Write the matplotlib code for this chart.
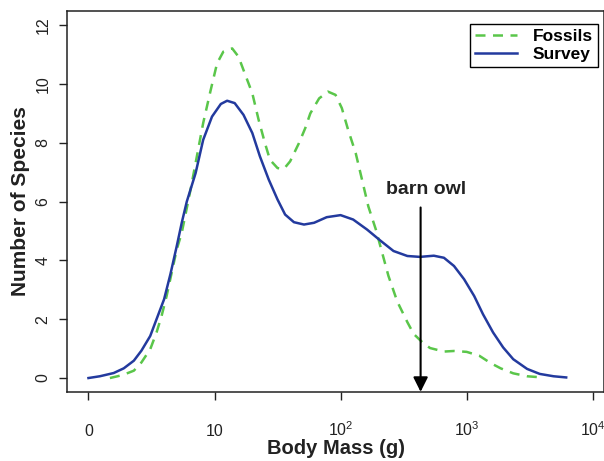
import numpy as np
import matplotlib
matplotlib.use('Agg')
import matplotlib.pyplot as plt

plt.rcParams['font.family'] = ['Liberation Sans', 'DejaVu Sans']
plt.rcParams['mathtext.default'] = 'regular'

# log10 body mass (g) vs number of species
survey_x = [0.0, 0.09, 0.20, 0.28, 0.36, 0.42, 0.49, 0.54, 0.60, 0.65, 0.70,
            0.74, 0.78, 0.85, 0.91, 0.98, 1.05, 1.10, 1.16, 1.23, 1.30, 1.36,
            1.43, 1.50, 1.56, 1.63, 1.71, 1.79, 1.89, 2.00, 2.10, 2.21, 2.32,
            2.42, 2.53, 2.63, 2.74, 2.82, 2.90, 2.98, 3.06, 3.13, 3.21, 3.29,
            3.37, 3.48, 3.58, 3.69, 3.79]
survey_y = [0.0, 0.06, 0.17, 0.33, 0.59, 0.93, 1.43, 2.0, 2.68, 3.53, 4.48,
            5.28, 6.0, 6.97, 8.10, 8.89, 9.32, 9.43, 9.35, 8.95, 8.33, 7.54,
            6.75, 6.07, 5.56, 5.30, 5.22, 5.28, 5.47, 5.54, 5.39, 5.05, 4.66,
            4.32, 4.15, 4.12, 4.16, 4.09, 3.81, 3.36, 2.79, 2.17, 1.55, 1.04,
            0.64, 0.31, 0.14, 0.06, 0.02]

fossil_x = [0.17, 0.27, 0.36, 0.42, 0.49, 0.54, 0.58, 0.62, 0.66, 0.70, 0.74,
            0.81, 0.86, 0.91, 0.97, 1.02, 1.07, 1.14, 1.19, 1.24, 1.30, 1.35,
            1.40, 1.44, 1.50, 1.55, 1.60, 1.67, 1.72, 1.76, 1.83, 1.90, 1.96,
            2.01, 2.06, 2.12, 2.17, 2.22, 2.28, 2.33, 2.38, 2.45, 2.53, 2.58,
            2.65, 2.71, 2.82, 2.90, 3.00, 3.10, 3.19, 3.27, 3.37, 3.48, 3.60]
fossil_y = [0.0, 0.10, 0.25, 0.53, 0.98, 1.55, 2.11, 2.79, 3.58, 4.37, 4.94,
            6.41, 7.54, 8.67, 9.80, 10.70, 11.10, 11.21, 10.93, 10.36, 9.68, 8.78,
            7.99, 7.42, 7.14, 7.11, 7.37, 7.99, 8.50, 9.0, 9.51, 9.74, 9.63,
            9.18, 8.44, 7.65, 6.75, 5.84, 5.05, 4.26, 3.47, 2.6, 1.9, 1.5,
            1.21, 1.02, 0.90, 0.92, 0.89, 0.76, 0.51, 0.33, 0.16, 0.06, 0.02]

x_ticks = [0, 1, 2, 3, 4]
x_tick_labels = ['0', '10', '$10^2$', '$10^3$', '$10^4$']
y_ticks = [0, 2, 4, 6, 8, 10, 12]

barn_owl_x = 2.635
barn_owl_top = 5.8

GREEN = '#5ac64a'
BLUE = '#233a9e'

fig = plt.figure(figsize=(6.04, 4.61), dpi=100)
ax = fig.add_axes([0.111, 0.150, 0.889, 0.826])

ax.plot(fossil_x, fossil_y, color=GREEN, lw=1.8, dashes=(4, 3),
        solid_joinstyle='round', dash_joinstyle='round', label='Fossils')
ax.plot(survey_x, survey_y, color=BLUE, lw=1.8, solid_joinstyle='round', label='Survey')

ax.set_xlim(-0.17, 4.09)
ax.set_ylim(-0.47, 12.48)

ax.annotate('', xy=(barn_owl_x, -0.47), xytext=(barn_owl_x, barn_owl_top),
            arrowprops=dict(arrowstyle='-|>', color='black', lw=1.5,
                            mutation_scale=22, shrinkA=0, shrinkB=0))
ax.text(barn_owl_x + 0.04, barn_owl_top + 0.6, 'barn owl', ha='center',
        va='center', fontsize=14, fontweight='bold', color='#222222')

ax.set_xticks(x_ticks)
ax.set_xticklabels(x_tick_labels)
for lab in ax.get_xticklabels():
    lab.set_va('baseline')
ax.set_yticks(y_ticks)
ax.set_yticklabels([str(v) for v in y_ticks], rotation=90, va='center')
ax.tick_params(axis='both', labelsize=11.5, length=6, width=1, colors='#222222')
ax.tick_params(axis='x', pad=25.5)
ax.tick_params(axis='y', pad=6)

for sp in ax.spines.values():
    sp.set_linewidth(1.1)
    sp.set_color('#222222')

ax.set_xlabel('Body Mass (g)', fontsize=14.5, fontweight='bold', color='#222222')
ax.xaxis.set_label_coords(0.5, -0.125)
ax.set_ylabel('Number of Species', fontsize=15, fontweight='bold', labelpad=4, color='#222222')

leg = ax.legend(loc='upper right', bbox_to_anchor=(0.989, 0.966), borderaxespad=0,
                fancybox=False, edgecolor='black', framealpha=1,
                prop={'weight': 'bold', 'size': 12.5},
                handlelength=2.4, borderpad=0.3, labelspacing=0.15, handletextpad=0.9)
leg.get_frame().set_linewidth(1.0)

fig.savefig('out.png', dpi=100)
